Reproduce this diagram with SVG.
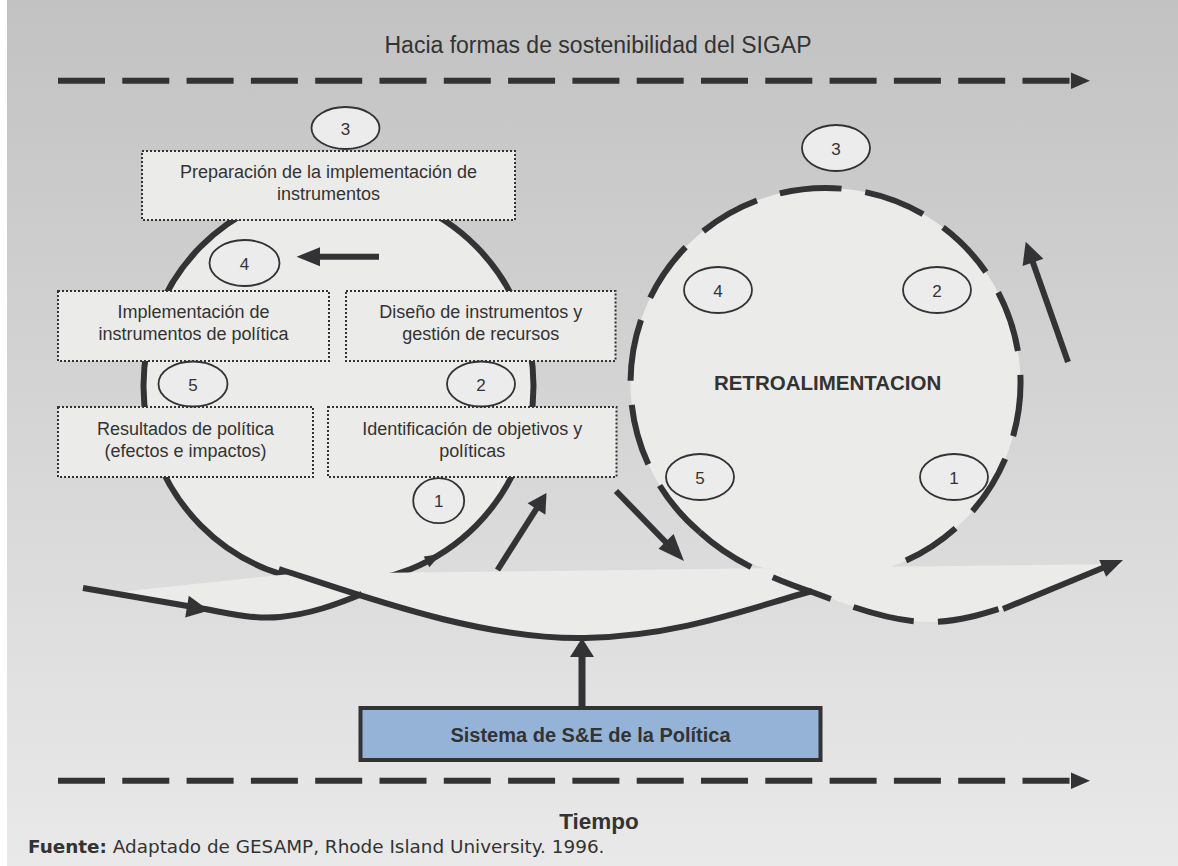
<svg xmlns="http://www.w3.org/2000/svg" width="1178" height="866" viewBox="0 0 1178 866">
<defs>
<linearGradient id="bg" x1="0" y1="0" x2="0" y2="1">
<stop offset="0" stop-color="#c2c2c2"/>
<stop offset="1" stop-color="#e9e9e9"/>
</linearGradient>
<style>
.txt{font-family:"Liberation Sans",Arial,sans-serif;fill:#333;text-anchor:middle}
.box{fill:#ebebea;stroke:#333;stroke-width:2;stroke-dasharray:2 2}
.num{fill:#ececec;stroke:#333336;stroke-width:1.8}
.ln{fill:none;stroke:#333336;stroke-width:6}
.dash{fill:none;stroke:#333336;stroke-width:6;stroke-dasharray:62 24}
.tdash{fill:none;stroke:#333336;stroke-width:6;stroke-dasharray:47 17.3}
.head{fill:#333336}
</style>
</defs>
<rect x="0" y="0" width="1178" height="866" fill="url(#bg)"/>
<rect x="0" y="0" width="7" height="866" fill="#ffffff"/>

<g id="top-axis">
<text class="txt" x="598" y="52.5" font-size="23">Hacia formas de sostenibilidad del SIGAP</text>
<line class="tdash" x1="58" y1="80.7" x2="1071" y2="80.7"/>
<polygon class="head" points="1071,72.5 1090,80.7 1071,89"/>
</g>

<g id="loop-left">
<ellipse cx="338.5" cy="386" rx="195" ry="197" fill="#ebebe9" stroke="#333336" stroke-width="6"/>
</g>
<g id="loop-right">
<circle cx="825.5" cy="383" r="195" fill="#ebebe9"/>
<path class="dash" d="M700,532.2 A195,195 0 1 1 906,560.6"/>
</g>

<g id="band">
<path fill="#ebebea" d="M110,593 L290,574 L1123,564 L1005,609 C985,614 960,622 930,622 C890,622 850,606 812,591 C750,608 680,636 585,638 C500,641 420,617 362,596 C335,606 310,615 280,617 C255,619 235,615 205,609 Z"/>
</g>

<g id="connectors">
<path class="ln" d="M279,569 C360,595 480,640 585,638 C680,636 750,608 812,591"/>
<path class="ln" d="M83,588 L205,609 C235,615 255,619 280,617 C310,614 335,605 362,594"/>
<polygon class="head" points="209,610.5 188.8,595.8 185.2,617.6"/>
<path class="dash" d="M700,532.2 C730,560 770,578 812,592 C850,606 890,622 930,622 C960,622 985,613 1005,607"/>
<path class="ln" d="M1003,609 L1105,567"/>
<polygon class="head" points="1123,560 1099.3,560.1 1106.1,576.7"/>
<polygon class="head" points="441,554 423.7,556.6 429.3,567.2"/>
<line class="ln" x1="497.5" y1="570" x2="537" y2="508"/>
<polygon class="head" points="546.5,493 527.6,503.3 545.4,514.7"/>
<line class="ln" x1="616" y1="491" x2="668" y2="544.5"/>
<polygon class="head" points="684,561 658.5,548.7 673.6,534.0"/>
<line class="ln" x1="1068" y1="362" x2="1031" y2="257"/>
<polygon class="head" points="1025.7,241.7 1022.6,266.1 1043.4,258.8"/>
<line class="ln" x1="379" y1="256.7" x2="316" y2="256.7"/>
<polygon class="head" points="296.6,256.7 320,247.2 320,266.2"/>
<line x1="582" y1="708" x2="582" y2="652" stroke="#333336" stroke-width="7"/>
<polygon class="head" points="582,638 570,657 594,657"/>
</g>

<g id="node-preparacion">
<rect class="box" x="142" y="151" width="373" height="69"/>
<text class="txt" x="328.5" y="178" font-size="18">Preparación de la implementación de</text>
<text class="txt" x="328.5" y="200" font-size="18">instrumentos</text>
</g>
<g id="node-implementacion">
<rect class="box" x="58" y="291" width="271" height="70"/>
<text class="txt" x="193.5" y="318" font-size="18">Implementación de</text>
<text class="txt" x="193.5" y="340" font-size="18">instrumentos de política</text>
</g>
<g id="node-diseno">
<rect class="box" x="346" y="291" width="269.5" height="70"/>
<text class="txt" x="480.7" y="318" font-size="18">Diseño de instrumentos y</text>
<text class="txt" x="480.7" y="340" font-size="18">gestión de recursos</text>
</g>
<g id="node-resultados">
<rect class="box" x="58" y="407" width="255" height="70"/>
<text class="txt" x="185.5" y="435" font-size="18">Resultados de política</text>
<text class="txt" x="185.5" y="457" font-size="18">(efectos e impactos)</text>
</g>
<g id="node-identificacion">
<rect class="box" x="328" y="407" width="288.5" height="70"/>
<text class="txt" x="472.3" y="435" font-size="18">Identificación de objetivos y</text>
<text class="txt" x="472.3" y="457" font-size="18">políticas</text>
</g>

<g id="num-left-3"><ellipse class="num" cx="345.5" cy="128" rx="34" ry="21"/><text class="txt" x="345.5" y="134.5" font-size="17">3</text></g>
<g id="num-left-4"><ellipse class="num" cx="244.5" cy="263" rx="35" ry="23"/><text class="txt" x="244.5" y="269.5" font-size="17">4</text></g>
<g id="num-left-5"><ellipse class="num" cx="193" cy="384" rx="34.5" ry="22.5"/><text class="txt" x="193" y="390.5" font-size="17">5</text></g>
<g id="num-left-2"><ellipse class="num" cx="481" cy="384" rx="34" ry="22.5"/><text class="txt" x="481" y="390.5" font-size="17">2</text></g>
<g id="num-left-1"><ellipse class="num" cx="438.7" cy="500.7" rx="25.5" ry="22.5"/><text class="txt" x="438.7" y="507" font-size="17">1</text></g>

<g id="retro-label"><text class="txt" x="827.6" y="390" font-size="20.5" font-weight="bold">RETROALIMENTACION</text></g>
<g id="num-right-3"><ellipse class="num" cx="836" cy="148" rx="34" ry="23"/><text class="txt" x="836" y="154.5" font-size="17">3</text></g>
<g id="num-right-4"><ellipse class="num" cx="718" cy="290" rx="34" ry="23"/><text class="txt" x="718" y="296.5" font-size="17">4</text></g>
<g id="num-right-2"><ellipse class="num" cx="937" cy="290" rx="34" ry="23"/><text class="txt" x="937" y="296.5" font-size="17">2</text></g>
<g id="num-right-5"><ellipse class="num" cx="700" cy="477" rx="34" ry="23"/><text class="txt" x="700" y="483.5" font-size="17">5</text></g>
<g id="num-right-1"><ellipse class="num" cx="954" cy="477" rx="34" ry="23"/><text class="txt" x="954" y="483.5" font-size="17">1</text></g>

<g id="node-sistema">
<rect x="360.5" y="708" width="460" height="52" fill="#95b3d7" stroke="#333336" stroke-width="4"/>
<text class="txt" x="590.5" y="742" font-size="20" font-weight="bold">Sistema de S&amp;E de la Política</text>
</g>

<g id="bottom-axis">
<line class="tdash" x1="58" y1="780.7" x2="1071" y2="780.7"/>
<polygon class="head" points="1071,772.5 1090,780.7 1071,789"/>
<text class="txt" x="599" y="829" font-size="22.5" font-weight="bold">Tiempo</text>
</g>
<text x="28" y="853" font-family="'DejaVu Sans',Verdana,sans-serif" font-size="18.4" fill="#333"><tspan font-weight="bold">Fuente:</tspan> Adaptado de GESAMP, Rhode Island University. 1996.</text>
</svg>
